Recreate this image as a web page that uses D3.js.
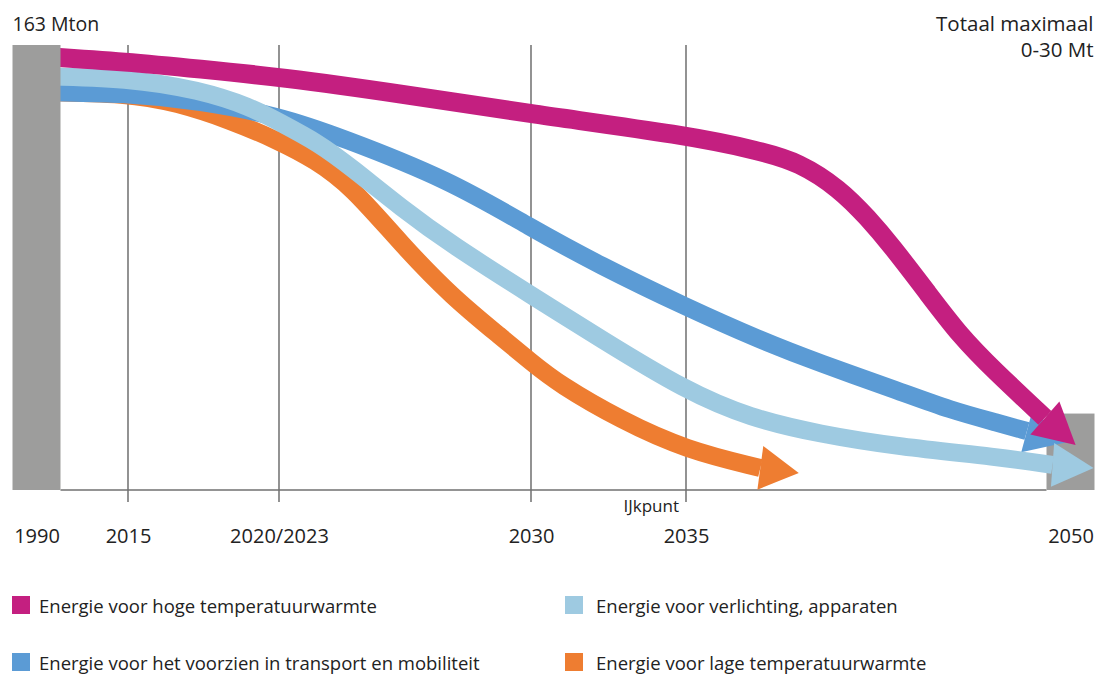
<!DOCTYPE html>
<html>
<head>
<meta charset="utf-8">
<script src="https://cdn.jsdelivr.net/npm/d3@7"></script>
<style>
  html, body { margin: 0; padding: 0; background: #ffffff; }
  svg { display: block; font-family: "Open Sans", sans-serif; }
</style>
</head>
<body>
<svg id="chart" width="1101" height="675"></svg>
<script>
// Axis ticks: year positions and the labels printed under them
const tickYears  = [1990, 2015, 2023, 2030, 2035, 2050];
const tickLabels = ["1990", "2015", "2020/2023", "2030", "2035", "2050"];
const gridYears  = [2015, 2023, 2030, 2035];

// Emission blocks (Mton CO2): 1990 total and the 2050 ceiling
const barYears  = [1990, 2050];
const barValues = [163, 28];

// Reduction paths per energy function, [year, Mton]; the last pair is the arrow tip
const hogeTemperatuur = [
  [1990, 159.0], [2015, 156.8], [2018.8, 154.2], [2023, 151.3], [2026.4, 145.1],
  [2030, 137.7], [2035, 130.0], [2037.9, 124.2], [2039.4, 120.1], [2041.0, 110.3],
  [2042.1, 99.6], [2043.0, 89.7], [2044.4, 72.5], [2045.7, 56.4], [2047.0, 44.0],
  [2049.0, 26.4], [2050.2, 16.5]
];
const verlichting = [
  [1990, 151.6], [2015, 150.9], [2018.8, 146.5], [2021.5, 140.3], [2023, 134.8],
  [2024.1, 127.1], [2025.0, 118.3], [2026.4, 103.3], [2027.8, 89.8], [2030, 71.4],
  [2032.2, 55.7], [2035, 36.3], [2037.5, 26.4], [2040.2, 20.5], [2043.3, 15.8],
  [2047.2, 12.1], [2049.3, 9.2], [2050.9, 8.1]
];
const transport = [
  [1990, 145.8], [2015, 145.3], [2018.8, 142.5], [2023, 137.0], [2024.7, 129.3],
  [2027.75, 113.5], [2030, 96.0], [2032.2, 82.4], [2035, 67.0], [2037.9, 54.9],
  [2040.2, 46.5], [2043.3, 36.3], [2045.3, 29.3], [2047.2, 24.5], [2048.3, 21.6],
  [2049.9, 17.6]
];
const lageTemperatuur = [
  [1990, 145.8], [2015, 145.3], [2017.6, 141.8], [2020.4, 135.5], [2023, 127.8],
  [2024.0, 120.9], [2025.0, 111.4], [2026.4, 90.0], [2027.8, 70.8], [2029.2, 55.7],
  [2030, 46.9], [2030.9, 38.8], [2032.9, 25.6], [2035, 14.7], [2037.9, 8.1],
  [2039.4, 6.2]
];

const seriesNames = [
  "Energie voor hoge temperatuurwarmte",
  "Energie voor verlichting, apparaten",
  "Energie voor het voorzien in transport en mobiliteit",
  "Energie voor lage temperatuurwarmte"
];

const colors = {
  hoge: "#c41f80",
  verlichting: "#9ecae1",
  transport: "#5b9bd5",
  lage: "#ee7d31",
  bar: "#9d9d9c",
  text: "#222222",
  grid: "#4a4a4a",
  base: "#707070"
};

const svg = d3.select("#chart");

const x = d3.scaleLinear().domain(tickYears).range([36.5, 128, 279, 531, 686, 1070.5]);
const y = d3.scaleLinear().domain([0, 163]).range([490, 45]);
const barW = 48;

// vertical reference lines
svg.append("g").selectAll("line").data(gridYears).join("line")
  .attr("x1", d => x(d)).attr("x2", d => x(d))
  .attr("y1", y(163)).attr("y2", y(0) + 12)
  .attr("stroke", colors.grid).attr("stroke-width", 1.2);

// baseline between the two blocks
svg.append("line")
  .attr("x1", x(1990) + barW / 2).attr("x2", x(2050) - barW / 2)
  .attr("y1", y(0)).attr("y2", y(0))
  .attr("stroke", colors.base).attr("stroke-width", 1.6);

// 2050 block sits under the arrow heads
svg.append("rect")
  .attr("x", x(barYears[1]) - barW / 2).attr("width", barW)
  .attr("y", y(barValues[1])).attr("height", y(0) - y(barValues[1]))
  .attr("fill", colors.bar);

// smooth B-spline through the path points
const shaft = d3.line()
  .x(d => x(d[0])).y(d => y(d[1]))
  .curve(d3.curveBasis);

function arrowHead(pts, half) {
  const b = pts[pts.length - 2], t = pts[pts.length - 1];
  const bx = x(b[0]), by = y(b[1]), tx = x(t[0]), ty = y(t[1]);
  const dx = tx - bx, dy = ty - by, L = Math.hypot(dx, dy);
  const nx = -dy / L, ny = dx / L;
  return [[bx + nx * half, by + ny * half], [tx, ty], [bx - nx * half, by - ny * half]];
}

const paths = [
  { data: lageTemperatuur, color: colors.lage, width: 18 },
  { data: transport, color: colors.transport, width: 18 },
  { data: verlichting, color: colors.verlichting, width: 18 },
  { data: hogeTemperatuur, color: colors.hoge, width: 19 }
];

const g = svg.append("g");
paths.forEach(p => {
  const grp = g.append("g");
  grp.append("path")
    .attr("d", shaft(p.data.slice(0, -1)))
    .attr("fill", "none")
    .attr("stroke", p.color)
    .attr("stroke-width", p.width)
    .attr("stroke-linecap", "butt");
  grp.append("path")
    .attr("d", d3.line()(arrowHead(p.data, 22)) + "Z")
    .attr("fill", p.color);
});

// 1990 block drawn last so the paths start at its edge
svg.append("rect")
  .attr("x", x(barYears[0]) - barW / 2).attr("width", barW)
  .attr("y", y(barValues[0])).attr("height", y(0) - y(barValues[0]))
  .attr("fill", colors.bar);

// x axis labels
const axis = d3.axisBottom(x)
  .tickValues(tickYears)
  .tickFormat((d, i) => tickLabels[i])
  .tickSize(0)
  .tickPadding(39);
const ax = svg.append("g").attr("transform", `translate(0,${y(0)})`).call(axis);
ax.select(".domain").remove();
ax.selectAll("text")
  .attr("fill", colors.text)
  .style("font-family", '"Open Sans", sans-serif')
  .style("font-size", "20px");

svg.append("text")
  .attr("x", x(2035) - 7).attr("y", 512)
  .attr("text-anchor", "end")
  .attr("fill", colors.text)
  .style("font-size", "17px")
  .text("IJkpunt");

// headings
svg.append("text")
  .attr("x", x(1990) - barW / 2).attr("y", 31)
  .attr("fill", colors.text).style("font-size", "19.5px")
  .text(`${barValues[0]} Mton`);

svg.append("text")
  .attr("x", x(2050) + barW / 2 - 1).attr("y", 31)
  .attr("text-anchor", "end")
  .attr("fill", colors.text).style("font-size", "20.5px")
  .text("Totaal maximaal");
svg.append("text")
  .attr("x", x(2050) + barW / 2 - 1).attr("y", 57)
  .attr("text-anchor", "end")
  .attr("fill", colors.text).style("font-size", "20.5px")
  .text("0-30 Mt");

// legend
const legendColors = [colors.hoge, colors.verlichting, colors.transport, colors.lage];
const legend = svg.append("g").selectAll("g").data(seriesNames).join("g")
  .attr("transform", (d, i) => `translate(${i % 2 === 0 ? 12 : 565},${i < 2 ? 596 : 653})`);
legend.append("rect")
  .attr("width", 18).attr("height", 18)
  .attr("fill", (d, i) => legendColors[i]);
legend.append("text")
  .attr("x", (d, i) => i % 2 === 0 ? 27 : 31).attr("y", 17)
  .attr("fill", colors.text)
  .style("font-size", "18.5px")
  .text(d => d);
</script>
</body>
</html>
